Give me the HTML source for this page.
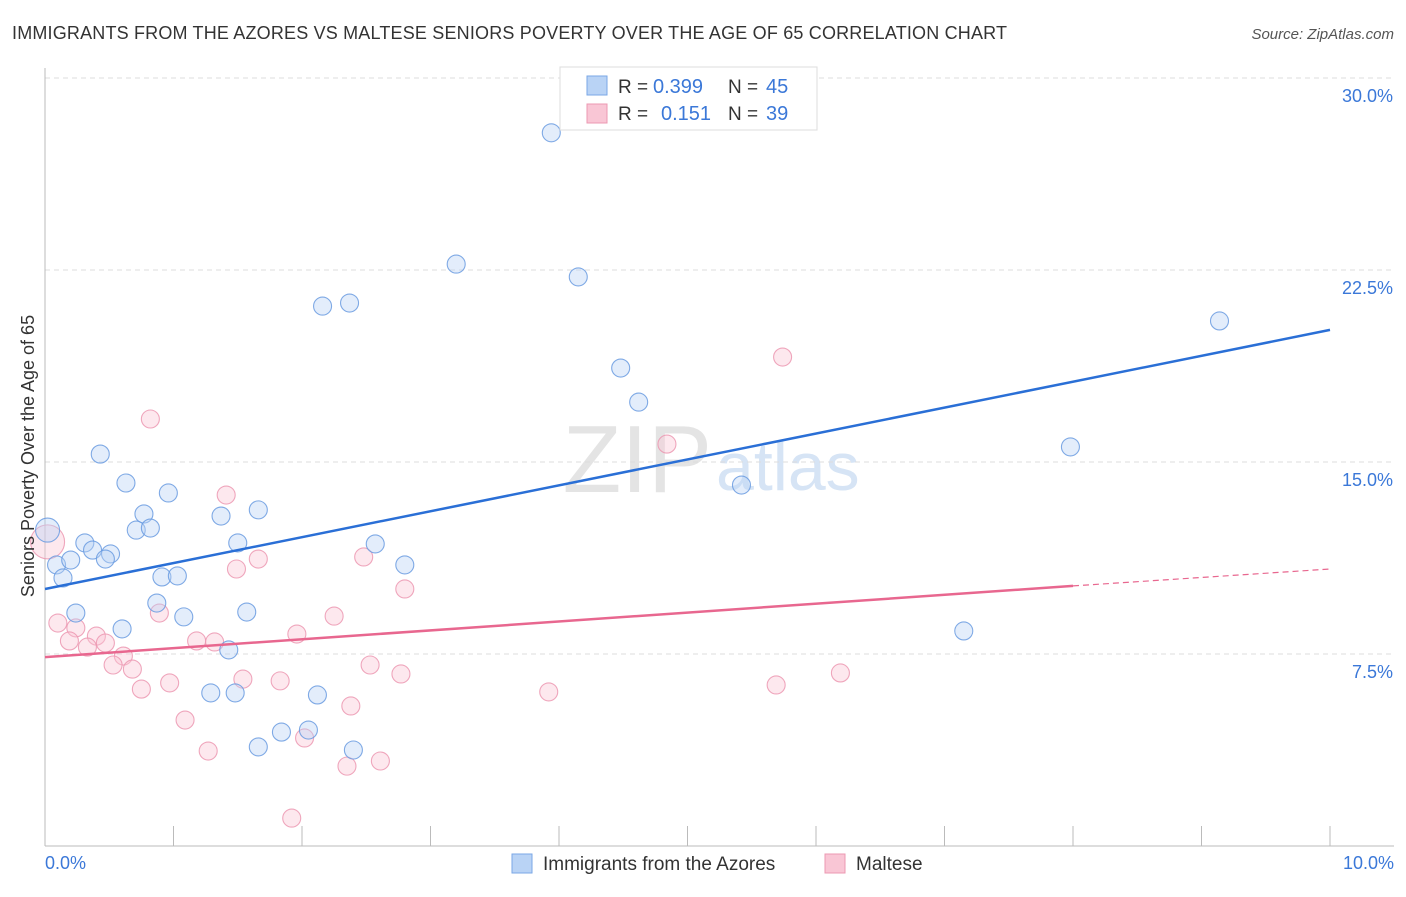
<!DOCTYPE html>
<html><head><meta charset="utf-8"><style>
body{margin:0;background:#fff;font-family:"Liberation Sans",sans-serif;}
svg text{font-family:"Liberation Sans",sans-serif;}
</style></head><body>
<svg id="chart" width="1406" height="892" xmlns="http://www.w3.org/2000/svg">
<text x="12" y="39" font-size="18" fill="#333" textLength="995">IMMIGRANTS FROM THE AZORES VS MALTESE SENIORS POVERTY OVER THE AGE OF 65 CORRELATION CHART</text>
<text x="1394" y="39" font-size="15" fill="#555" font-style="italic" text-anchor="end">Source: ZipAtlas.com</text>
<text x="712" y="492" font-size="96" fill="#e4e4e4" text-anchor="end" font-family="Liberation Serif">ZIP</text>
<text x="716" y="490" font-size="68" fill="#d6e4f5">atlas</text>
<g id="grid"></g>
<g id="marks"></g>
<text transform="translate(34,456) rotate(-90)" font-size="18" fill="#333" text-anchor="middle">Seniors Poverty Over the Age of 65</text>
<text x="45" y="869" font-size="18" fill="#3b78d8">0.0%</text>
<text x="1394" y="869" font-size="18" fill="#3b78d8" text-anchor="end">10.0%</text>
<g>
<rect x="560" y="67" width="257" height="63" fill="#fff" stroke="#ddd"/>
<rect x="587" y="76" width="20" height="19" fill="#b9d3f5" stroke="#7aa7e6"/>
<rect x="587" y="104" width="20" height="19" fill="#f9c6d5" stroke="#ec98b2"/>
<text x="618" y="93" font-size="19" fill="#333">R =</text>
<text x="653" y="93" font-size="20" fill="#3b78d8">0.399</text>
<text x="728" y="93" font-size="19" fill="#333">N =</text>
<text x="766" y="93" font-size="20" fill="#3b78d8">45</text>
<text x="618" y="120" font-size="19" fill="#333">R =</text>
<text x="661" y="120" font-size="20" fill="#3b78d8">0.151</text>
<text x="728" y="120" font-size="19" fill="#333">N =</text>
<text x="766" y="120" font-size="20" fill="#3b78d8">39</text>
</g>
<g>
<rect x="512" y="854" width="20" height="19" fill="#b9d3f5" stroke="#7aa7e6"/>
<text x="543" y="870" font-size="19" fill="#333">Immigrants from the Azores</text>
<rect x="825" y="854" width="20" height="19" fill="#f9c6d5" stroke="#ec98b2"/>
<text x="856" y="870" font-size="19" fill="#333">Maltese</text>
</g>
</svg>
<script>
const yTicks=[7.5,15,22.5,30];
const yTickLabels=["7.5%","15.0%","22.5%","30.0%"];
const azoresX=[3.94,3.2,4.15,2.16,2.37,9.14,4.48,4.62,0.43,7.98,0.63,0.96,5.42,0.77,1.37,1.66,0.71,0.82,0.02,0.31,0.37,0.51,0.47,1.5,2.57,0.09,0.2,2.8,0.14,0.91,1.03,0.87,0.24,1.08,1.57,0.6,1.43,7.15,1.29,1.48,2.12,1.84,2.05,1.66,2.4];
const azoresY=[27.86,22.73,22.23,21.09,21.21,20.51,18.67,17.34,15.31,15.59,14.18,13.79,14.1,12.97,12.89,13.13,12.34,12.42,12.34,11.84,11.56,11.41,11.21,11.84,11.8,10.98,11.17,10.98,10.47,10.51,10.55,9.49,9.1,8.95,9.14,8.48,7.66,8.4,5.98,5.98,5.9,4.45,4.53,3.87,3.75];
const malteseX=[0.82,5.74,4.84,1.41,0.02,1.66,1.49,2.48,2.8,0.89,2.25,0.1,0.24,0.4,0.19,0.33,0.47,0.61,0.53,0.68,1.18,1.32,1.96,0.75,0.97,1.54,1.83,2.53,2.77,3.92,5.69,6.19,1.09,2.38,1.27,2.02,2.35,2.61,1.92];
const malteseY=[16.68,19.1,15.7,13.71,11.88,11.21,10.82,11.29,10.04,9.1,8.98,8.71,8.52,8.2,8.01,7.77,7.93,7.42,7.07,6.91,8.01,7.97,8.28,6.13,6.37,6.52,6.45,7.07,6.72,6.02,6.29,6.76,4.92,5.47,3.71,4.22,3.12,3.32,1.09];
const azoresTrend=[10.04,20.16];
const malteseTrend=[7.38,10.16,10.82];
const X=v=>45+v/10*1285, Y=v=>846-v/30*768;
const ns="http://www.w3.org/2000/svg";
function mk(t,a,p){const e=document.createElementNS(ns,t);for(const k in a)e.setAttribute(k,a[k]);p.appendChild(e);return e;}
const grid=document.getElementById('grid'),marks=document.getElementById('marks');
yTicks.forEach((t,i)=>{
 const l=mk('line',{x1:45,x2:1394,y1:Y(t),y2:Y(t),stroke:'#ddd','stroke-dasharray':'5,4'},grid);
 
 
 const tx=mk('text',{x:1393,y:Y(t)+24,'font-size':18,fill:'#3b78d8','text-anchor':'end'},grid);
 tx.textContent=yTickLabels[i];
 
 
});
const ax=mk('line',{x1:45,x2:45,y1:68,y2:846,stroke:'#bbb'},grid);


const bx=mk('line',{x1:45,x2:1394,y1:846,y2:846,stroke:'#bbb'},grid);


for(let i=1;i<=10;i++){const t=mk('line',{x1:X(i),x2:X(i),y1:826,y2:846,stroke:'#bbb'},grid);
 
 }
function pts(xs,ys,fill,stroke,name){xs.forEach((x,i)=>{const big=(i==(name=='azores-point'?18:4));
 const c=mk('circle',{cx:X(x),cy:Y(ys[i]),r:big?(name=='azores-point'?12:17):9,fill:fill,'fill-opacity':0.4,stroke:stroke,'stroke-width':1.1,'stroke-opacity':0.85},marks);
 
 });}
pts(malteseX,malteseY,'#f9c6d5','#ec98b2','maltese-point');
pts(azoresX,azoresY,'#b9d3f5','#6a9be0','azores-point');
const bl=mk('line',{x1:X(0),y1:Y(azoresTrend[0]),x2:X(10),y2:Y(azoresTrend[1]),stroke:'#2a6fd6','stroke-width':2.5},marks);


const pl=mk('line',{x1:X(0),y1:Y(malteseTrend[0]),x2:X(8),y2:Y(malteseTrend[1]),stroke:'#e8678f','stroke-width':2.5},marks);


const pd=mk('line',{x1:X(8),y1:Y(malteseTrend[1]),x2:X(10),y2:Y(malteseTrend[2]),stroke:'#e8678f','stroke-width':1.2,'stroke-dasharray':'6,4'},marks);


</script>
</body></html>
